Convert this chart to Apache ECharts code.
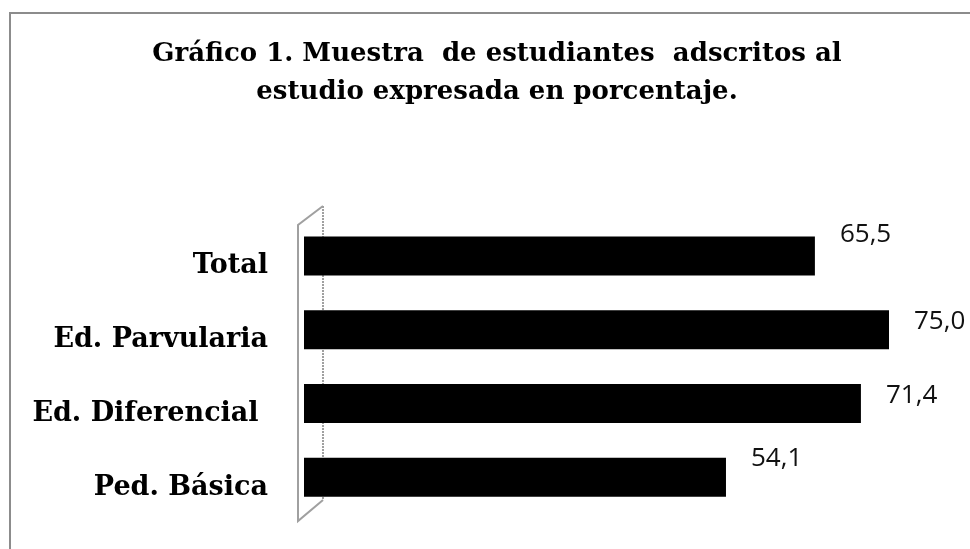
<!DOCTYPE html>
<html>
<head>
<meta charset="utf-8">
<script src="https://cdn.jsdelivr.net/npm/echarts@6/dist/echarts.min.js"></script>
<style>
html,body{margin:0;padding:0;background:#fff;}
#chart{width:970px;height:549px;}
</style>
</head>
<body>
<div id="chart"></div>
<script>
var titleLines = ['Gráfico 1. Muestra  de estudiantes  adscritos al', 'estudio expresada en porcentaje.'];
var categories = ['Total', 'Ed. Parvularia', 'Ed. Diferencial ', 'Ped. Básica'];
var values = [65.5, 75.0, 71.4, 54.1];
var labelOffsetsY = [-21, -8, -8, -19];

var chart = echarts.init(document.getElementById('chart'));
var serif = '"DejaVu Serif", serif';
var seriesData = values.map(function (v, i) {
  return { value: v, label: { offset: [0, labelOffsetsY[i]] } };
});

chart.setOption({
  animation: false,
  backgroundColor: '#ffffff',
  title: {
    text: titleLines.join('\n'),
    left: 497,
    top: 35,
    padding: 0,
    textAlign: 'center',
    textStyle: {
      fontFamily: serif,
      fontWeight: 'bold',
      fontSize: 26,
      lineHeight: 38,
      color: '#000'
    }
  },
  grid: { left: 304, right: 42, top: 219, bottom: 35 },
  xAxis: {
    type: 'value',
    min: 0,
    max: 80,
    show: false
  },
  yAxis: {
    type: 'category',
    data: categories,
    inverse: true,
    axisLine: { show: false },
    axisTick: { show: false },
    axisLabel: {
      margin: 36,
      fontFamily: serif,
      fontWeight: 'bold',
      fontSize: 27,
      color: '#000',
      verticalAlign: 'top',
      lineHeight: 21
    }
  },
  series: [{
    type: 'bar',
    data: seriesData,
    barWidth: 39,
    itemStyle: { color: '#000' },
    label: {
      show: true,
      position: 'right',
      distance: 25,
      fontFamily: '"Open Sans", sans-serif',
      fontSize: 26,
      color: '#111',
      formatter: function (p) { return p.value.toFixed(1).replace('.', ','); }
    }
  }],
  graphic: [
    { type: 'rect', shape: { x: 10, y: 13, width: 975, height: 560 }, style: { fill: null, stroke: '#8c8c8c', lineWidth: 2 }, silent: true },
    { type: 'polyline', shape: { points: [[323, 206], [298, 225], [298, 521], [323, 500]] }, style: { fill: null, stroke: '#a0a0a0', lineWidth: 2 }, silent: true },
    { type: 'line', shape: { x1: 323, y1: 206, x2: 323, y2: 500 }, style: { stroke: '#a0a0a0', lineWidth: 2, lineDash: [2, 1] }, silent: true, z: -1 }
  ]
});
</script>
</body>
</html>
